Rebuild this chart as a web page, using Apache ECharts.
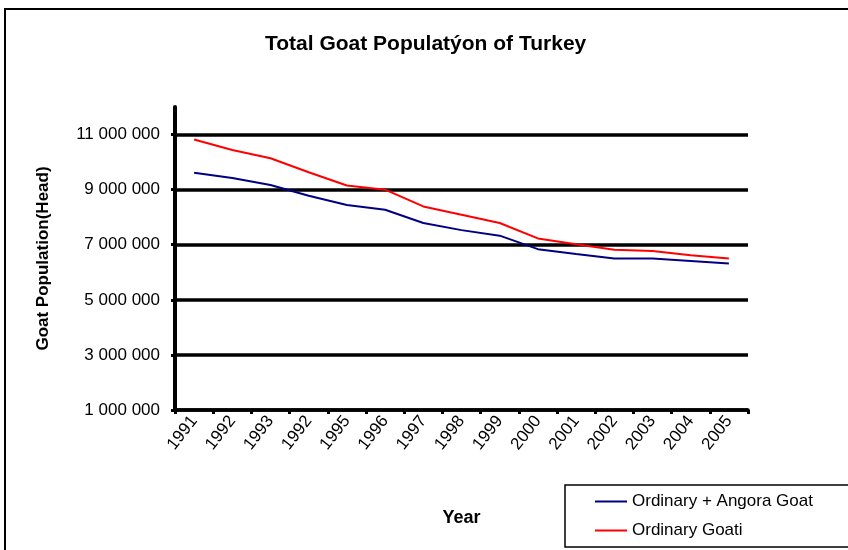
<!DOCTYPE html>
<html>
<head>
<meta charset="utf-8">
<script src="https://cdn.jsdelivr.net/npm/echarts@6/dist/echarts.min.js"></script>
<style>
  html, body { margin: 0; padding: 0; background: #fff; }
  #chart { width: 848px; height: 550px; }
</style>
</head>
<body>
<div id="chart"></div>
<script>
// years as printed on the axis (the 4th label reads 1992 in the source)
var years = ['1991', '1992', '1993', '1992', '1995', '1996', '1997', '1998', '1999', '2000', '2001', '2002', '2003', '2004', '2005'];
var angoraTotal = [9610000, 9420000, 9170000, 8780000, 8440000, 8270000, 7790000, 7530000, 7330000, 6840000, 6660000, 6500000, 6500000, 6410000, 6320000];
var ordinaryGoat = [10820000, 10440000, 10140000, 9630000, 9150000, 9000000, 8390000, 8090000, 7790000, 7230000, 7020000, 6820000, 6770000, 6620000, 6500000];
var yTicks = [1000000, 3000000, 5000000, 7000000, 9000000, 11000000];

var font = 'Liberation Sans, Arial, sans-serif';

function spaced(v) {
    return String(v).replace(/\B(?=(\d{3})+(?!\d))/g, ' ');
}

var myChart = echarts.init(document.getElementById('chart'));
var option = {
    backgroundColor: '#fff',
    animation: false,
    title: {
        text: 'Total Goat Populatýon of Turkey',
        left: 265,
        top: 34,
        padding: 0,
        textStyle: { fontFamily: font, fontSize: 21, fontWeight: 'bold', color: '#000' }
    },
    legend: {
        orient: 'vertical',
        left: 565,
        top: 485,
        height: 60,
        padding: [8, 40, 8, 30],
        itemGap: 12,
        itemWidth: 32,
        itemHeight: 2,
        icon: 'rect',
        borderColor: '#000',
        borderWidth: 1.5,
        textStyle: { fontFamily: font, fontSize: 17, color: '#000' },
        data: ['Ordinary + Angora Goat', 'Ordinary Goati']
    },
    grid: { left: 175, right: 100, top: 107, bottom: 140 },
    xAxis: {
        type: 'category',
        data: years,
        boundaryGap: true,
        name: 'Year',
        nameLocation: 'middle',
        nameGap: 99,
        nameTextStyle: { fontFamily: font, fontSize: 18, fontWeight: 'bold', color: '#000' },
        axisLine: { lineStyle: { color: '#000', width: 3.5 } },
        axisTick: { show: true, length: 4, lineStyle: { color: '#000', width: 3 } },
        axisLabel: { rotate: 52, interval: 0, margin: 8, fontFamily: font, fontSize: 17, color: '#000' }
    },
    yAxis: {
        type: 'value',
        min: 1000000,
        max: 12000000,
        name: 'Goat Population(Head)',
        nameLocation: 'middle',
        nameGap: 123,
        nameTextStyle: { fontFamily: font, fontSize: 17, fontWeight: 'bold', color: '#000' },
        axisLine: { show: true, lineStyle: { color: '#000', width: 4 } },
        axisTick: { show: true, length: 4, customValues: yTicks, lineStyle: { color: '#000', width: 3 } },
        axisLabel: {
            margin: 15,
            customValues: yTicks,
            fontFamily: font, fontSize: 17, color: '#000',
            formatter: function (v) { return spaced(v); }
        },
        splitLine: { show: true, lineStyle: { color: '#000', width: 3.5 } }
    },
    series: [
        {
            name: 'Ordinary + Angora Goat',
            type: 'line',
            data: angoraTotal,
            symbol: 'none',
            itemStyle: { color: '#000080' },
            lineStyle: { color: '#000080', width: 2 }
        },
        {
            name: 'Ordinary Goati',
            type: 'line',
            data: ordinaryGoat,
            symbol: 'none',
            itemStyle: { color: '#ff0000' },
            lineStyle: { color: '#ff0000', width: 2 }
        }
    ],
    graphic: [{
        type: 'rect',
        shape: { x: 5, y: 9, width: 900, height: 600 },
        style: { fill: 'none', stroke: '#000', lineWidth: 2 },
        silent: true
    }]
};
myChart.setOption(option);
window.addEventListener('resize', function () {
    myChart.resize();
});
</script>
</body>
</html>
